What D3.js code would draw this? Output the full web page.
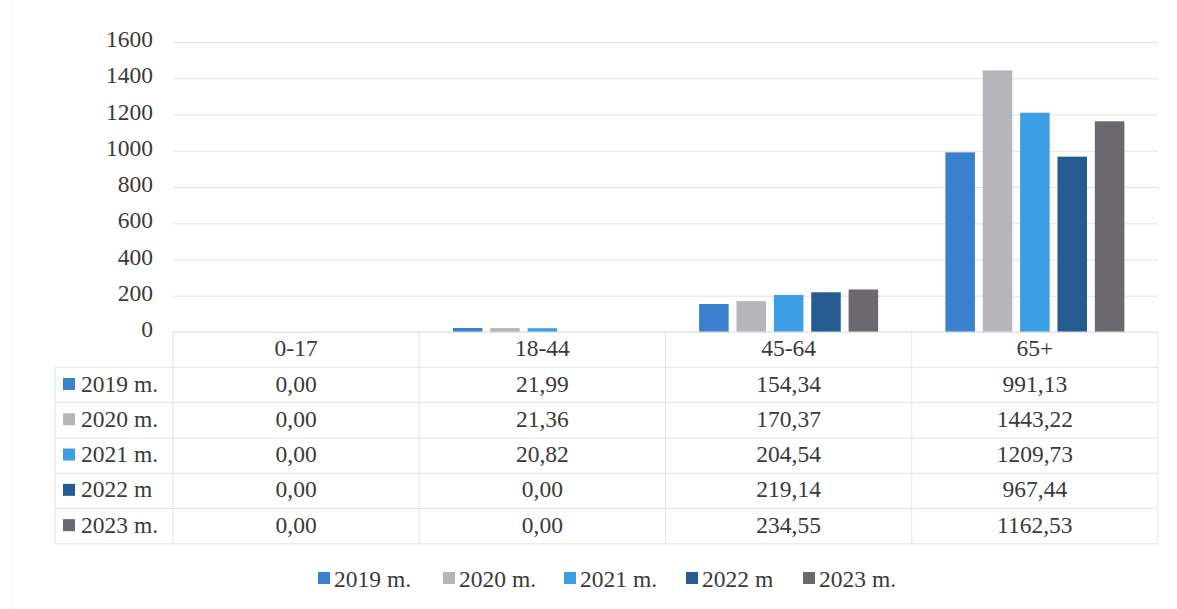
<!DOCTYPE html>
<html>
<head>
<meta charset="utf-8">
<script src="https://cdn.jsdelivr.net/npm/d3@7/dist/d3.min.js"></script>
<style>
  html, body { margin: 0; padding: 0; background: #fff; }
  svg { display: block; font-family: "Liberation Serif", "Times New Roman", serif; }
</style>
</head>
<body>
<svg id="chart" width="1177" height="609"></svg>
<script>
// Age groups and yearly series
const categories = ["0-17", "18-44", "45-64", "65+"];
const seriesNames = ["2019 m.", "2020 m.", "2021 m.", "2022 m", "2023 m."];
const seriesColors = ["#3b7fcf", "#b5b5ba", "#3c9fe6", "#255b8e", "#6b6870"];
const v2019 = [0.00, 21.99, 154.34, 991.13];
const v2020 = [0.00, 21.36, 170.37, 1443.22];
const v2021 = [0.00, 20.82, 204.54, 1209.73];
const v2022 = [0.00, 0.00, 219.14, 967.44];
const v2023 = [0.00, 0.00, 234.55, 1162.53];
const yTicks = [0, 200, 400, 600, 800, 1000, 1200, 1400, 1600];

const seriesValues = [v2019, v2020, v2021, v2022, v2023];
const fmt = v => v.toFixed(2).replace(".", ",");

const svg = d3.select("#chart");

const plotLeft = 173, plotRight = 1158, plotTop = 42, plotBottom = 332;
const tableLeft = 55, rowH = 35.3;
const fontSize = 23.5;

const x = d3.scaleBand().domain(categories).range([plotLeft, plotRight]).padding(0);
const xs = d3.scaleBand().domain(d3.range(seriesNames.length))
  .range([0, x.bandwidth()]).paddingInner(0.21).paddingOuter(0.9);
const y = d3.scaleLinear().domain([0, 1600]).range([plotBottom, plotTop]);

const gridColor = "#e3e3e3";
const textColor = "#3a3a3a";

// faint chart frame
svg.append("line").attr("x1", 12).attr("x2", 12).attr("y1", 0).attr("y2", 609)
  .attr("stroke", "#f2f2f2");

// horizontal gridlines + value axis labels
const yAxis = d3.axisLeft(y).tickValues(yTicks).tickFormat(d3.format("d"))
  .tickSize(-(plotRight - plotLeft)).tickPadding(20);
const gy = svg.append("g").attr("transform", `translate(${plotLeft},0)`).call(yAxis);
gy.select(".domain").remove();
gy.selectAll(".tick line").attr("stroke", gridColor).attr("stroke-width", 1);
gy.selectAll(".tick text").attr("fill", textColor).attr("font-size", fontSize)
  .attr("font-family", "Liberation Serif").attr("dy", "0.2em");

// bars
const groups = svg.append("g").selectAll("g").data(categories).join("g")
  .attr("transform", d => `translate(${x(d)},0)`);
groups.selectAll("rect")
  .data((c, ci) => seriesValues.map((vals, si) => ({ si, v: vals[ci] })))
  .join("rect")
  .attr("x", d => xs(d.si))
  .attr("width", xs.bandwidth())
  .attr("y", d => y(d.v))
  .attr("height", d => Math.max(0, y(0) - y(d.v)))
  .attr("fill", d => seriesColors[d.si]);

// data table
const tableBottom = plotBottom + rowH * (seriesNames.length + 1);
const tg = svg.append("g").attr("stroke", gridColor).attr("stroke-width", 1);
// horizontal rules
tg.append("line").attr("x1", plotLeft).attr("x2", plotRight).attr("y1", plotBottom).attr("y2", plotBottom);
for (let r = 1; r <= seriesNames.length + 1; r++) {
  const yy = plotBottom + r * rowH;
  tg.append("line").attr("x1", tableLeft).attr("x2", plotRight).attr("y1", yy).attr("y2", yy);
}
// vertical rules
categories.forEach(c => {
  tg.append("line").attr("x1", x(c)).attr("x2", x(c)).attr("y1", plotBottom).attr("y2", tableBottom);
});
tg.append("line").attr("x1", plotRight).attr("x2", plotRight).attr("y1", plotBottom).attr("y2", tableBottom);
tg.append("line").attr("x1", tableLeft).attr("x2", tableLeft).attr("y1", plotBottom + rowH).attr("y2", tableBottom);

// header row: category names
svg.append("g").selectAll("text").data(categories).join("text")
  .attr("x", d => x(d) + x.bandwidth() / 2)
  .attr("y", plotBottom + rowH / 2)
  .attr("dy", "0.28em")
  .attr("text-anchor", "middle")
  .attr("font-size", fontSize)
  .attr("fill", textColor)
  .text(d => d);

// series rows
seriesNames.forEach((name, si) => {
  const cy = plotBottom + rowH * (si + 1) + rowH / 2;
  svg.append("rect").attr("x", 63).attr("y", cy - 7).attr("width", 12).attr("height", 12)
    .attr("fill", seriesColors[si]);
  svg.append("text").attr("x", 81).attr("y", cy).attr("dy", "0.28em")
    .attr("font-size", fontSize).attr("fill", textColor).text(name);
  categories.forEach((c, ci) => {
    svg.append("text")
      .attr("x", x(c) + x.bandwidth() / 2)
      .attr("y", cy).attr("dy", "0.28em")
      .attr("text-anchor", "middle")
      .attr("font-size", fontSize).attr("fill", textColor)
      .text(fmt(seriesValues[si][ci]));
  });
});

// legend
const legendX = [318, 443, 564, 686, 803];
const legend = svg.append("g").selectAll("g").data(seriesNames).join("g")
  .attr("transform", (d, i) => `translate(${legendX[i]},578)`);
legend.append("rect").attr("x", 0).attr("y", -6).attr("width", 12).attr("height", 12)
  .attr("fill", (d, i) => seriesColors[i]);
legend.append("text").attr("x", 16).attr("y", 9)
  .attr("font-size", fontSize).attr("fill", textColor).text(d => d);
</script>
</body>
</html>
